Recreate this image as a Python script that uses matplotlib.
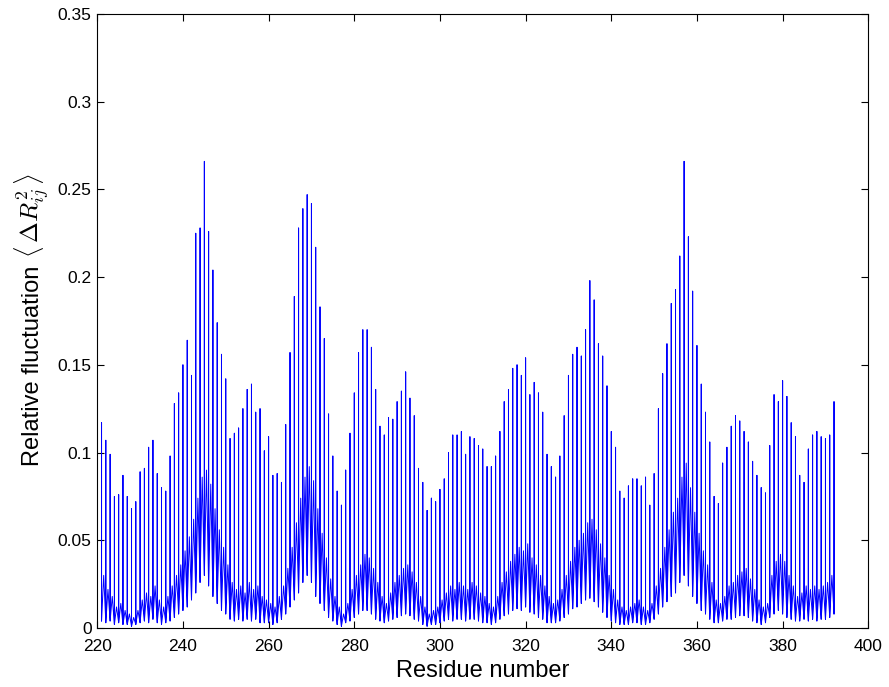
import matplotlib
matplotlib.use("Agg")
import matplotlib.pyplot as plt
import numpy as np
from matplotlib.ticker import FormatStrFormatter, MultipleLocator

plt.rcParams['font.family'] = ['Liberation Sans', 'DejaVu Sans']
plt.rcParams['mathtext.fontset'] = 'cm'

first_residue = 221
peaks = [
    0.117, 0.107, 0.099, 0.075, 0.076, 0.087, 0.075, 0.068, 0.072, 0.089,
    0.091, 0.103, 0.107, 0.088, 0.080, 0.078, 0.098, 0.128, 0.134, 0.150,
    0.164, 0.144, 0.225, 0.228, 0.266, 0.226, 0.204, 0.174, 0.156, 0.142,
    0.108, 0.111, 0.114, 0.125, 0.136, 0.139, 0.123, 0.125, 0.101, 0.109,
    0.087, 0.088, 0.083, 0.116, 0.157, 0.189, 0.228, 0.239, 0.247, 0.242,
    0.217, 0.183, 0.165, 0.122, 0.098, 0.078, 0.070, 0.090, 0.111, 0.134,
    0.157, 0.170, 0.170, 0.160, 0.136, 0.115, 0.110, 0.120, 0.119, 0.129,
    0.135, 0.146, 0.131, 0.121, 0.091, 0.083, 0.067, 0.074, 0.072, 0.079,
    0.085, 0.100, 0.110, 0.110, 0.112, 0.099, 0.109, 0.108, 0.104, 0.102,
    0.092, 0.092, 0.098, 0.112, 0.129, 0.136, 0.148, 0.150, 0.144, 0.154,
    0.133, 0.140, 0.134, 0.123, 0.099, 0.092, 0.086, 0.098, 0.121, 0.144,
    0.156, 0.160, 0.155, 0.170, 0.198, 0.187, 0.162, 0.155, 0.138, 0.112,
    0.103, 0.078, 0.074, 0.081, 0.085, 0.085, 0.081, 0.086, 0.070, 0.088,
    0.125, 0.145, 0.162, 0.185, 0.193, 0.212, 0.266, 0.223, 0.192, 0.161,
    0.139, 0.123, 0.106, 0.075, 0.071, 0.094, 0.103, 0.115, 0.121, 0.118,
    0.112, 0.106, 0.095, 0.087, 0.080, 0.077, 0.104, 0.133, 0.129, 0.141,
    0.132, 0.117, 0.109, 0.087, 0.083, 0.102, 0.110, 0.112, 0.109, 0.108,
    0.110, 0.129,
]
# zigzag level half-way between consecutive spikes
band = [
    0.030, 0.022, 0.018, 0.012, 0.014, 0.010, 0.008, 0.006, 0.010, 0.016,
    0.020, 0.018, 0.024, 0.016, 0.012, 0.018, 0.024, 0.030, 0.036, 0.044,
    0.052, 0.062, 0.074, 0.086, 0.090, 0.082, 0.068, 0.056, 0.046, 0.036,
    0.026, 0.022, 0.024, 0.020, 0.026, 0.022, 0.024, 0.018, 0.016, 0.014,
    0.012, 0.018, 0.024, 0.034, 0.046, 0.060, 0.074, 0.086, 0.092, 0.084,
    0.068, 0.054, 0.040, 0.028, 0.018, 0.012, 0.008, 0.014, 0.022, 0.030,
    0.036, 0.042, 0.040, 0.034, 0.026, 0.018, 0.014, 0.020, 0.026, 0.030,
    0.034, 0.036, 0.032, 0.026, 0.018, 0.012, 0.008, 0.010, 0.012, 0.016,
    0.020, 0.024, 0.022, 0.026, 0.024, 0.022, 0.026, 0.024, 0.020, 0.018,
    0.014, 0.012, 0.018, 0.026, 0.032, 0.038, 0.042, 0.046, 0.044, 0.048,
    0.040, 0.036, 0.030, 0.024, 0.018, 0.014, 0.016, 0.022, 0.030, 0.038,
    0.046, 0.050, 0.054, 0.060, 0.062, 0.056, 0.048, 0.040, 0.030, 0.022,
    0.016, 0.012, 0.010, 0.012, 0.014, 0.016, 0.012, 0.010, 0.014, 0.024,
    0.034, 0.046, 0.056, 0.066, 0.074, 0.086, 0.094, 0.080, 0.066, 0.054,
    0.044, 0.036, 0.026, 0.016, 0.014, 0.018, 0.024, 0.026, 0.030, 0.032,
    0.034, 0.028, 0.022, 0.016, 0.012, 0.014, 0.030, 0.038, 0.042, 0.038,
    0.030, 0.024, 0.018, 0.020, 0.024, 0.022, 0.024, 0.022, 0.024, 0.026,
    0.030,
]
base = [
    0.004, 0.003, 0.004, 0.002, 0.003, 0.002, 0.002, 0.001, 0.002, 0.003,
    0.004, 0.003, 0.005, 0.003, 0.002, 0.003, 0.004, 0.006, 0.008, 0.010,
    0.012, 0.016, 0.020, 0.026, 0.030, 0.024, 0.018, 0.014, 0.010, 0.008,
    0.005, 0.004, 0.005, 0.004, 0.005, 0.004, 0.005, 0.003, 0.003, 0.003,
    0.002, 0.003, 0.005, 0.008, 0.012, 0.016, 0.020, 0.026, 0.030, 0.026,
    0.018, 0.014, 0.010, 0.006, 0.004, 0.002, 0.001, 0.003, 0.004, 0.006,
    0.008, 0.010, 0.010, 0.008, 0.005, 0.004, 0.003, 0.004, 0.005, 0.006,
    0.007, 0.008, 0.007, 0.005, 0.004, 0.002, 0.001, 0.002, 0.002, 0.003,
    0.004, 0.005, 0.004, 0.005, 0.005, 0.004, 0.005, 0.005, 0.004, 0.003,
    0.003, 0.002, 0.003, 0.005, 0.007, 0.008, 0.010, 0.011, 0.010, 0.012,
    0.009, 0.008, 0.006, 0.005, 0.003, 0.003, 0.003, 0.004, 0.006, 0.008,
    0.011, 0.012, 0.014, 0.016, 0.017, 0.015, 0.012, 0.009, 0.006, 0.004,
    0.003, 0.002, 0.002, 0.002, 0.003, 0.003, 0.002, 0.002, 0.003, 0.005,
    0.008, 0.012, 0.015, 0.018, 0.020, 0.026, 0.030, 0.024, 0.018, 0.014,
    0.010, 0.008, 0.005, 0.003, 0.003, 0.004, 0.005, 0.005, 0.006, 0.007,
    0.007, 0.006, 0.004, 0.003, 0.002, 0.003, 0.006, 0.008, 0.010, 0.008,
    0.006, 0.005, 0.004, 0.004, 0.005, 0.004, 0.005, 0.004, 0.005, 0.005,
    0.006, 0.008,
]

residues = np.arange(first_residue, first_residue + len(peaks))
n = min(len(peaks), len(base))

# connected trace: base -> spike -> base -> mid-point zigzag -> next residue
xs, ys = [], []
for i in range(n):
    r = residues[i]
    xs += [r, r, r]
    ys += [base[i], peaks[i], base[i]]
    if i < n - 1 and i < len(band):
        xs.append(r + 0.5)
        ys.append(band[i])

fig = plt.figure(figsize=(8.89, 6.87), dpi=100)
ax = fig.add_axes([0.1094, 0.0859, 0.8673, 0.8937])
ax.plot(xs, ys, color='#0000ff', lw=0.7)

ax.set_xlim(220, 400)
ax.set_ylim(0, 0.35)
ax.xaxis.set_major_locator(MultipleLocator(20))
ax.yaxis.set_major_locator(MultipleLocator(0.05))
ax.yaxis.set_major_formatter(FormatStrFormatter('%g'))
ax.tick_params(direction='in', length=5, width=0.8, labelsize=12.5,
               top=True, right=True)
ax.tick_params(axis='x', pad=8)
ax.tick_params(axis='y', pad=4)
for s in ax.spines.values():
    s.set_linewidth(0.8)

ax.set_xlabel('Residue number', fontsize=17, labelpad=4)
fig.text(0.037, 0.467, 'Relative fluctuation', rotation=90, fontsize=17,
         ha='center', va='center')
fig.text(0.037, 0.686, r'$\langle\,\Delta R_{ij}^{2}\,\rangle$', rotation=90,
         fontsize=18, ha='center', va='center')

fig.savefig('out.png', dpi=100)
